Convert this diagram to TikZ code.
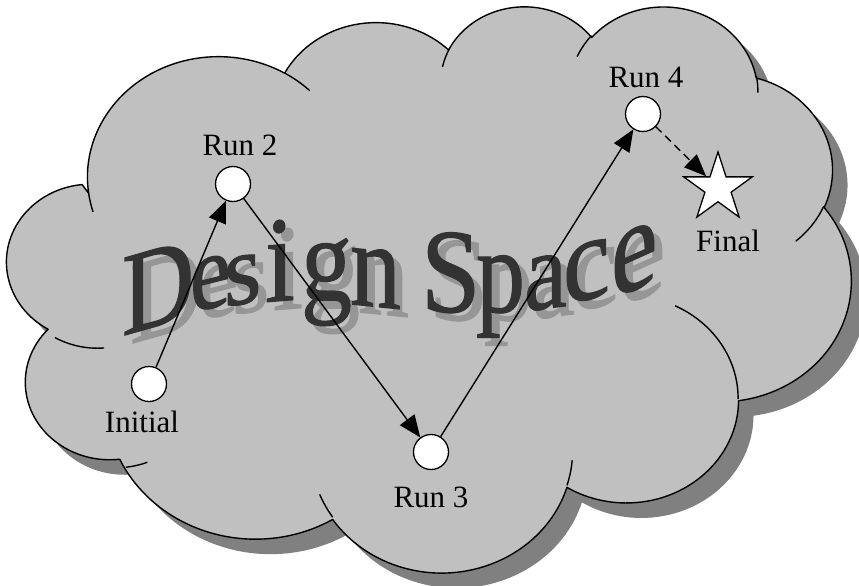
\documentclass[tikz,border=0pt]{standalone}
\usepackage{fontspec}
\setmainfont{Liberation Serif}
\newfontfamily\wordfont[FakeBold=1.0]{Liberation Serif}
\usetikzlibrary{arrows.meta,shapes.geometric}

\definecolor{cloudfill}{RGB}{192,192,192}
\definecolor{cloudshade}{RGB}{128,128,128}
\definecolor{wordink}{RGB}{51,51,51}
\definecolor{wordshade}{RGB}{150,150,150}

% elliptic arc given by radii, start angle and sweep, angles measured
% on the ellipse as seen (not parametric)
\newcommand\oarc[4]{arc[start angle={atan2((#1)*sin(#3),(#2)*cos(#3))},
  delta angle={atan2((#1)*sin((#3)+(#4)),(#2)*cos((#3)+(#4)))-atan2((#1)*sin(#3),(#2)*cos(#3))
   -360*round((atan2((#1)*sin((#3)+(#4)),(#2)*cos((#3)+(#4)))-atan2((#1)*sin(#3),(#2)*cos(#3))-(#4))/360)},
  x radius=#1, y radius=#2]}

% outline of the cloud, in a 432 x 432 box
\newcommand\cloudoutline{(39.00,143.70)
  \oarc{67.53}{91.90}{-190.487}{123.781}
  \oarc{53.33}{72.67}{-144.102}{89.945}
  \oarc{43.65}{59.45}{-145.808}{99.723}
  \oarc{48.57}{65.95}{-130.986}{117.242}
  \oarc{53.33}{72.73}{-78.709}{109.027}
  \oarc{67.75}{92.20}{-46.267}{130.269}
  \oarc{57.85}{78.67}{0.625}{114.033}
  \oarc{67.52}{92.15}{22.452}{115.173}
  \oarc{77.20}{105.43}{66.243}{81.370}
  \oarc{43.60}{59.18}{-274.942}{146.736}
  \oarc{43.45}{59.45}{-246.829}{152.519} -- cycle}

% inner folds between the bumps
\newcommand\cloudfolds{(46.93,261.77) \oarc{43.45}{59.45}{86.742}{26.430}
  (69.28,348.99) \oarc{43.60}{59.18}{73.611}{11.447}
  (164.78,390.90) \oarc{67.52}{92.15}{137.624}{14.081}
  (288.27,347.51) \oarc{67.52}{92.15}{6.453}{15.998}
  (341.29,229.54) \oarc{57.85}{78.67}{-70.292}{70.917}
  (417.98,153.54) \oarc{53.33}{72.73}{30.318}{27.752}
  (383.24,54.26) \oarc{48.57}{65.95}{-13.744}{14.859}
  (290.78,39.52) \oarc{48.57}{65.95}{-149.181}{18.195}
  (221.41,47.20) \oarc{43.65}{59.45}{-163.494}{17.686}
  (140.00,51.92) \oarc{67.53}{91.90}{-66.707}{12.319}
  (41.27,157.89) \oarc{67.53}{91.90}{157.654}{11.858}}

\tikzset{
  cloudbox/.style={x=1.93981pt, y=-1.31019pt},
  edge line/.style={line width=1.4pt},
  dot/.style={circle, draw, fill=white, line width=1.3pt, minimum size=35pt, inner sep=0pt},
  goal/.style={star, star points=5, star point ratio=2.618, minimum size=72pt,
    inner sep=0pt, draw, fill=white, line width=1.3pt},
  lbl/.style={anchor=base, inner sep=0pt, font=\fontsize{31}{31}\selectfont},
  letter/.style={anchor=base west, inner sep=0pt, outer sep=0pt,
    font=\wordfont\fontsize{100}{100}\selectfont, text=wordink},
  letter shadow/.style={letter, text=wordshade},
  conn/.style={line width=1.4pt, -{Triangle[length=22pt,width=18pt]}},
  conn dashed/.style={conn, dash pattern=on 8pt off 5pt}
}

% one letter of the title with its drop shadow:
% name, x, baseline y, slant, x scale, y scale, glyph
\newcommand\wordletter[7]{%
  \node[letter shadow, yslant=#4, xscale=#5, yscale=#6] (#1s) at (#2+8,#3+8) {#7};
  \node[letter, yslant=#4, xscale=#5, yscale=#6] (#1) at (#2,#3) {#7};
}

\begin{document}
\begin{tikzpicture}[x=1pt, y=-1pt]
\useasboundingbox (0,0) rectangle (859,586);

% cloud: shadow, body, outline and folds
\begin{scope}[shift={(28,20)}, cloudbox]
  \fill[cloudshade] \cloudoutline;
\end{scope}
\begin{scope}[shift={(13,5)}, cloudbox]
  \fill[cloudfill] \cloudoutline;
  \draw[edge line, line join=round] \cloudoutline;
  \draw[edge line] \cloudfolds;
\end{scope}

% title across the cloud
\wordletter{w1}{122}{336}{0.29}{1.00}{1.18}{D}
\wordletter{w2}{190}{313}{0.25}{0.92}{1.08}{e}
\wordletter{w3}{224}{307}{0.18}{0.96}{1.02}{s}
\wordletter{w4}{265}{302}{0.08}{1.08}{1.22}{i}
\wordletter{w5}{301}{300}{0.00}{1.02}{1.20}{g}
\wordletter{w6}{350}{304}{-0.10}{1.02}{1.22}{n}
\wordletter{w7}{421}{311}{-0.03}{1.07}{1.20}{S}
\wordletter{w8}{476}{312}{0.00}{0.98}{1.20}{p}
\wordletter{w9}{524}{311}{0.12}{0.97}{1.12}{a}
\wordletter{w10}{563}{306}{0.28}{1.06}{1.20}{c}
\wordletter{w11}{611}{300}{0.45}{1.05}{1.30}{e}

% design points
\node[dot] (init) at (149,384) {};
\node[dot] (run2) at (233,184) {};
\node[dot] (run3) at (431,452) {};
\node[dot] (run4) at (643,114) {};
\node[goal] (final) at (718,188) {};

% path through the design space
\draw[conn] (init) -- (run2);
\draw[conn] (run2) -- (run3);
\draw[conn] (run3) -- (run4);
\draw[conn dashed] (run4) -- (final);

% labels
\node[lbl] (tinit) at (142,432) {Initial};
\node[lbl] (trun2) at (240,155) {Run 2};
\node[lbl] (trun3) at (431,507) {Run 3};
\node[lbl] (trun4) at (646,88) {Run 4};
\node[lbl] (tfinal) at (728,251) {Final};
\end{tikzpicture}
\end{document}
